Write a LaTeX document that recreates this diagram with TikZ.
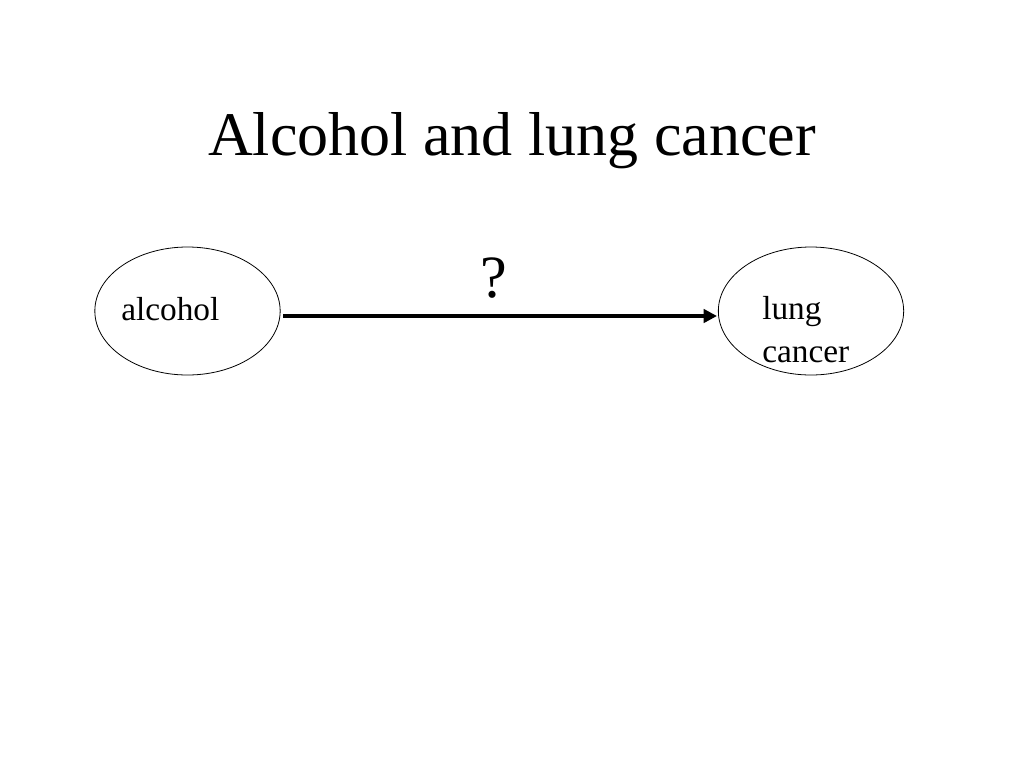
\documentclass[tikz,border=0pt]{standalone}
\usepackage{fontspec}
\setmainfont{Liberation Serif}
\usetikzlibrary{shapes.geometric,arrows.meta}
\begin{document}
\begin{tikzpicture}[x=0.75pt,y=-0.75pt,
  oval/.style={draw,ellipse,minimum width=139pt,minimum height=96pt,line width=0.6pt},
  lbl/.style={font=\fontsize{25}{30}\selectfont,anchor=base west,inner sep=0pt,align=left}]
\useasboundingbox (0,0) rectangle (1024,768);
\node[anchor=base,inner sep=0pt,font=\fontsize{46.5}{56}\selectfont] (title) at (512,155) {Alcohol and lung cancer};
\node[oval] (a) at (187.5,311) {};
\node[oval] (b) at (811,311) {};
\node[lbl] (at) at (121,320) {alcohol};
\node[lbl,anchor=north west,text depth=0pt] (bt) at (762,296) {lung\\[2pt]cancer};
\coordinate (s) at (283,316);
\coordinate (e) at (717,316);
\draw[line width=3pt,-{Triangle[length=10pt,width=10pt]}] (s) -- (e);
\node[anchor=base,inner sep=0pt,font=\fontsize{45}{54}\selectfont] (q) at (494,297) {?};
\end{tikzpicture}
\end{document}
